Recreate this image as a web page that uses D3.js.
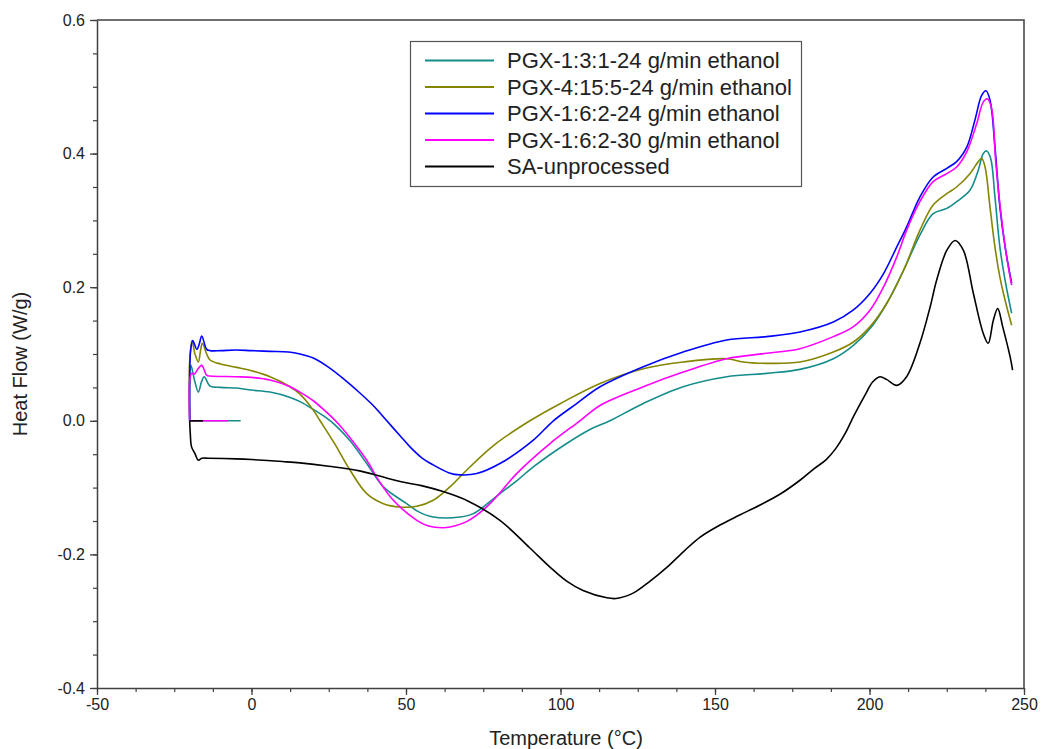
<!DOCTYPE html>
<html>
<head>
<meta charset="utf-8">
<script src="https://cdn.jsdelivr.net/npm/d3@7"></script>
<style>
  body { margin: 0; background: #fff; }
  text { font-family: "Liberation Sans", Arial, sans-serif; }
</style>
</head>
<body>
<div id="chart"></div>
<script>
// DSC curves, [temperature °C, heat flow W/g]
const seriesNames = [
  "PGX-1:3:1-24 g/min ethanol",
  "PGX-4:15:5-24 g/min ethanol",
  "PGX-1:6:2-24 g/min ethanol",
  "PGX-1:6:2-30 g/min ethanol",
  "SA-unprocessed"
];
const seriesColors = ["#158c8c", "#858500", "#0000ff", "#ff00ff", "#000000"];

const pgx131 = [[-3.5,0],[-20,0],[-20,0.05],[-19.6,0.083],[-18.4,0.06],[-17.2,0.043],[-16.2,0.058],[-15.3,0.066],
  [-13.4,0.052],[-10,0.05],[-4.8,0.049],[0,0.046],[6,0.043],[12.5,0.035],[16,0.028],[20,0.017],[24,0.005],
  [27,-0.006],[31.9,-0.03],[37.3,-0.064],[42.7,-0.099],[50.2,-0.124],[54,-0.136],[58.8,-0.144],[67.5,-0.144],[71.8,-0.139],
  [80.4,-0.109],[85.8,-0.09],[91.2,-0.069],[102,-0.034],[110,-0.012],[116,0],[126.8,0.026],[139.7,0.051],
  [153.8,0.066],[166.7,0.071],[177.5,0.077],[188.3,0.093],[194.8,0.113],[200.2,0.138],[205.6,0.176],[211,0.225],
  [216.3,0.278],[220.6,0.31],[225,0.318],[228.2,0.328],[232.5,0.345],[235.2,0.375],[236.8,0.4],[237.9,0.404],
  [239.2,0.393],[240.6,0.335],[242.2,0.26],[243.9,0.21],[246,0.161]];

const pgx4155 = [[-20,0],[-20,0.09],[-19.2,0.12],[-18.3,0.1],[-17.2,0.088],[-16.5,0.105],[-15.9,0.116],[-14.5,0.1],
  [-13.4,0.091],[-10,0.085],[-4.8,0.08],[0,0.075],[6,0.066],[12.5,0.051],[15.7,0.04],[20,0.016],[22.2,0],
  [27,-0.035],[31.9,-0.074],[37.3,-0.109],[42.7,-0.124],[48.1,-0.129],[53.5,-0.128],[58.8,-0.119],[64.2,-0.099],
  [69.6,-0.074],[78.3,-0.037],[90.1,0],[100,0.026],[112.8,0.056],[126.8,0.078],[139.7,0.088],[153.8,0.093],
  [159.1,0.088],[166.7,0.086],[177.5,0.088],[188.3,0.103],[194.8,0.118],[200.2,0.141],[205.6,0.176],[211,0.225],
  [216.3,0.285],[220.6,0.323],[225,0.34],[228.2,0.35],[232.5,0.37],[235.2,0.388],[236.3,0.393],[237.4,0.38],
  [239,0.32],[240.6,0.26],[242.2,0.215],[243.9,0.18],[246,0.143]];

const pgx162_24 = [[-20,0],[-20,0.07],[-19.7,0.105],[-19,0.12],[-17.7,0.107],[-16.9,0.115],[-16.1,0.127],[-14.5,0.107],
  [-13.4,0.105],[-10,0.105],[-5,0.106],[0,0.105],[6,0.104],[12,0.103],[15.7,0.1],[20,0.094],[25,0.08],[30,0.062],
  [35,0.042],[40,0.02],[43.8,0],[48,-0.022],[51.3,-0.039],[55,-0.055],[58.8,-0.066],[64,-0.078],[67.5,-0.081],
  [72.9,-0.079],[80.4,-0.064],[91.2,-0.029],[97.7,0],[105,0.025],[112.8,0.051],[126.8,0.081],[139.7,0.103],
  [153.8,0.121],[166.7,0.126],[177.5,0.133],[188.3,0.148],[194.8,0.166],[200.2,0.191],[204.5,0.22],[208.8,0.26],
  [212,0.29],[216.3,0.335],[220.6,0.365],[225,0.378],[228.2,0.388],[231.5,0.41],[234.1,0.45],[236.3,0.487],
  [237.7,0.494],[239,0.48],[240.6,0.41],[242.2,0.32],[243.9,0.26],[246,0.206]];

const pgx162_30 = [[-7.6,0],[-20,0],[-20,0.06],[-19.4,0.071],[-18.5,0.07],[-17.7,0.075],[-16.1,0.083],[-14.5,0.068],
  [-13.4,0.067],[-4.8,0.066],[0,0.065],[6,0.061],[12.5,0.051],[15.7,0.043],[20,0.03],[24,0.014],[28,-0.004],
  [32,-0.026],[37.3,-0.059],[41,-0.088],[45.9,-0.119],[53.5,-0.149],[57,-0.157],[62.1,-0.16],[66,-0.157],
  [69.6,-0.151],[76.1,-0.129],[80,-0.11],[85.8,-0.079],[96.6,-0.034],[106.3,0],[112.8,0.023],[126.8,0.051],
  [139.7,0.073],[153.8,0.093],[166.7,0.101],[177.5,0.108],[188.3,0.126],[194.8,0.141],[200.2,0.166],[204.5,0.2],
  [208.8,0.245],[212,0.285],[216.3,0.328],[220.6,0.358],[225,0.37],[228.2,0.38],[231.5,0.403],[234.7,0.445],
  [236.8,0.477],[238.1,0.482],[239.5,0.468],[240.9,0.385],[242.8,0.3],[244.4,0.245],[246,0.203]];

const saUnprocessed = [[-15.7,0],[-20,0],[-19.8,-0.02],[-19.4,-0.039],[-18.3,-0.049],[-17.2,-0.059],[-16.1,-0.056],
  [-14,-0.056],[-5,-0.057],[0,-0.058],[10,-0.061],[15.7,-0.063],[25,-0.068],[35,-0.075],[48.1,-0.091],[55,-0.097],
  [62,-0.106],[70,-0.12],[80.4,-0.149],[90,-0.19],[96.6,-0.219],[102,-0.24],[107.3,-0.254],[115,-0.265],
  [118,-0.266],[123.5,-0.258],[129,-0.24],[134.5,-0.219],[140,-0.195],[145.2,-0.174],[151.6,-0.156],[158,-0.141],
  [164.6,-0.126],[171,-0.11],[177.5,-0.089],[182,-0.072],[186,-0.058],[189,-0.042],[192,-0.02],[195,0.008],
  [198.5,0.038],[201,0.058],[203.4,0.066],[205.5,0.062],[208.8,0.053],[212,0.066],[216.3,0.116],[219.6,0.17],
  [221.7,0.21],[225,0.255],[227.7,0.27],[230.4,0.255],[233.6,0.191],[236.8,0.131],[238.4,0.116],[240.1,0.151],
  [241.5,0.168],[243.1,0.141],[245.5,0.096],[246.3,0.076]];

const allSeries = [pgx131, pgx4155, pgx162_24, pgx162_30, saUnprocessed];

const xTicks = [-50, 0, 50, 100, 150, 200, 250];
const yTicks = [-0.4, -0.2, 0.0, 0.2, 0.4, 0.6];
const xMinor = d3.range(-50, 250.1, 12.5);
const yMinor = d3.range(-0.4, 0.601, 0.05);

const width = 1042, height = 749;
const margin = { left: 97, right: 18, top: 20, bottom: 61 };
const axisColor = "#404040";

const svg = d3.select("#chart").append("svg")
  .attr("width", width)
  .attr("height", height);

const x = d3.scaleLinear().domain([-50, 250]).range([margin.left, width - margin.right]);
const y = d3.scaleLinear().domain([-0.4, 0.6]).range([height - margin.bottom, margin.top]);

// minor ticks first, majors drawn over them
svg.append("g")
  .attr("transform", `translate(0,${y(-0.4)})`)
  .call(d3.axisBottom(x).tickValues(xMinor).tickSize(4).tickFormat(""))
  .call(g => g.select(".domain").remove())
  .call(g => g.selectAll("line").attr("stroke", axisColor).attr("stroke-width", 1.2));

svg.append("g")
  .attr("transform", `translate(${x(-50)},0)`)
  .call(d3.axisLeft(y).tickValues(yMinor).tickSize(4).tickFormat(""))
  .call(g => g.select(".domain").remove())
  .call(g => g.selectAll("line").attr("stroke", axisColor).attr("stroke-width", 1.2));

const xAxis = svg.append("g")
  .attr("transform", `translate(0,${y(-0.4)})`)
  .call(d3.axisBottom(x).tickValues(xTicks).tickSize(7).tickSizeOuter(0).tickPadding(4).tickFormat(d => String(d)));

const yAxis = svg.append("g")
  .attr("transform", `translate(${x(-50)},0)`)
  .call(d3.axisLeft(y).tickValues(yTicks).tickSize(7).tickSizeOuter(0).tickPadding(5).tickFormat(d => d.toFixed(1)));

[xAxis, yAxis].forEach(a => {
  a.select(".domain").attr("stroke", axisColor).attr("stroke-width", 1.5);
  a.selectAll("line").attr("stroke", axisColor).attr("stroke-width", 1.3);
  a.selectAll("text").attr("font-size", 16).attr("fill", "#222");
});

// top and right frame
svg.append("path")
  .attr("d", `M${x(-50)},${y(0.6)}H${x(250)}V${y(-0.4)}`)
  .attr("fill", "none")
  .attr("stroke", axisColor)
  .attr("stroke-width", 1.5);

// the instrument trace starts with a flat stub back to -20 °C, drawn straight;
// the rest is smoothed
const straight = d3.line().x(d => x(d[0])).y(d => y(d[1]));
const smooth = d3.line().x(d => x(d[0])).y(d => y(d[1])).curve(d3.curveCatmullRom.alpha(0.5));

function splitAtStart(pts) {
  const k = pts.findIndex(p => p[0] === -20 && p[1] === 0);
  return { stub: pts.slice(0, k + 1), body: pts.slice(k) };
}

const traces = svg.append("g");
allSeries.forEach((pts, i) => {
  const { stub, body } = splitAtStart(pts);
  if (stub.length > 1) {
    traces.append("path")
      .attr("d", straight(stub))
      .attr("fill", "none")
      .attr("stroke", seriesColors[i])
      .attr("stroke-width", 1.6);
  }
  traces.append("path")
    .attr("d", smooth(body))
    .attr("fill", "none")
    .attr("stroke", seriesColors[i])
    .attr("stroke-width", 1.6)
    .attr("stroke-linejoin", "round");
});

// axis titles
svg.append("text")
  .attr("x", 566).attr("y", 745)
  .attr("text-anchor", "middle")
  .attr("font-size", 20).attr("fill", "#222")
  .text("Temperature (°C)");

svg.append("text")
  .attr("transform", "translate(27,364) rotate(-90)")
  .attr("text-anchor", "middle")
  .attr("font-size", 20).attr("fill", "#222")
  .text("Heat Flow (W/g)");

// legend
const legend = svg.append("g");
legend.append("rect")
  .attr("x", 410.5).attr("y", 41.5)
  .attr("width", 391).attr("height", 145)
  .attr("fill", "#fff")
  .attr("stroke", "#555").attr("stroke-width", 1.2);

const rows = legend.selectAll("g.row")
  .data(seriesNames)
  .join("g")
  .attr("class", "row")
  .attr("transform", (d, i) => `translate(0,${60.5 + i * 26.5})`);

rows.append("line")
  .attr("x1", 425).attr("x2", 494)
  .attr("stroke", (d, i) => seriesColors[i])
  .attr("stroke-width", 1.8);

rows.append("text")
  .attr("x", 507).attr("dy", "0.36em")
  .attr("font-size", 22).attr("fill", "#222")
  .text(d => d);
</script>
</body>
</html>
